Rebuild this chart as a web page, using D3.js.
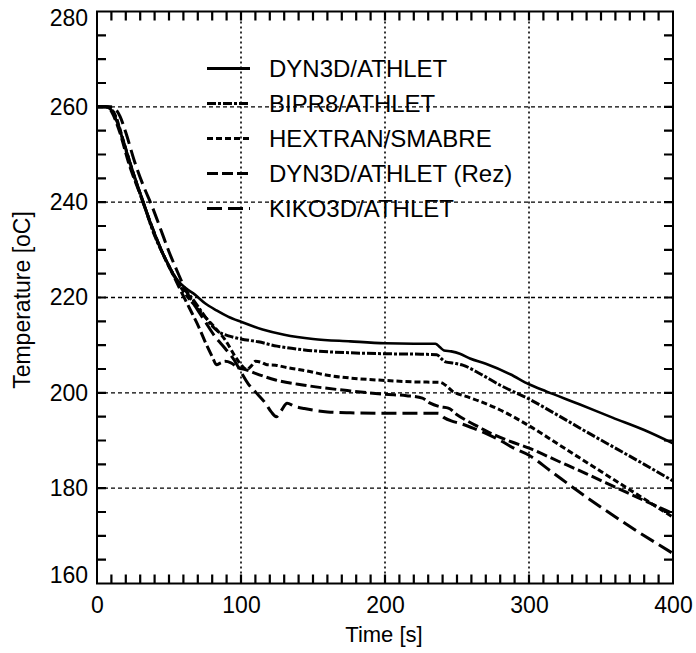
<!DOCTYPE html>
<html>
<head>
<meta charset="utf-8">
<script src="https://cdn.jsdelivr.net/npm/d3@7"></script>
<style>
  body { margin: 0; background: #fff; }
  svg { display: block; }
  text { font-family: Arial, "Liberation Sans", Helvetica, sans-serif; fill: #000; }
</style>
</head>
<body>
<svg id="chart" width="696" height="653"></svg>
<script>
// Axis ticks
const xTickLabels = [0, 100, 200, 300, 400];
const yTickLabels = [160, 180, 200, 220, 240, 260, 280];
const xGrid = [100, 200, 300];
const yGrid = [180, 200, 220, 240, 260];

// Legend entries
const seriesNames = ["DYN3D/ATHLET", "BIPR8/ATHLET", "HEXTRAN/SMABRE", "DYN3D/ATHLET (Rez)", "KIKO3D/ATHLET"];

// Temperature [oC] vs time [s] for each code
const dyn3dAthlet = [
  [0,260],[6,260],[9,259.6],[12,258.2],[16,255],[20,251.2],[26,245.5],[32,240.2],[38,235],[44,230.5],
  [50,226.6],[56,223.6],[62,221.9],[68,220.6],[75,218.8],[83,217.3],[91,216],[100,214.9],[115,213.3],
  [130,212.2],[150,211.3],[176,210.8],[200,210.4],[220,210.3],[235,210.3],[238,209.6],[241,208.9],
  [246,208.7],[252,208.2],[259,207.2],[270,206.1],[287,203.9],[300,201.8],[312,200.3],[335,197.6],
  [358,194.8],[380,192.2],[400,189.4]
];
const bipr8Athlet = [
  [0,260],[7,260],[10,259.5],[13,257.8],[18,253],[24,247],[32,240],[40,233],[48,227.8],[56,223.4],
  [63,221],[69,218.6],[75,216],[80,214],[84,212.9],[92,211.9],[100,211.3],[112,210.7],[125,209.8],
  [144,209],[176,208.4],[200,208.2],[225,208.1],[236,208],[239,207.2],[242,206.5],[248,206.2],
  [254,205.8],[266,204],[280,201.6],[300,198.7],[320,195.3],[340,191.8],[360,188.4],[380,185],[400,181.5]
];
const hextranSmabre = [
  [0,260],[7,260],[10,259.6],[13,258],[18,253.2],[24,247.2],[32,240],[40,233.2],[48,227.7],[56,223.2],
  [62,220.5],[68,218.3],[77,215.3],[83,213.3],[89,211.1],[96,207.6],[100,205.9],[104,204.9],[107,205.6],
  [110,206.6],[114,206.4],[118,205.9],[124,205.8],[132,205.3],[144,204.7],[160,203.7],[176,203.1],
  [200,202.6],[220,202.3],[238,202.2],[242,201.6],[247,200.3],[257,199.2],[266,198.2],[280,196.4],
  [300,193.1],[325,188.3],[350,183.5],[375,178.7],[400,173.9]
];
const dyn3dAthletRez = [
  [0,260],[6,260],[9,259.5],[12,257.8],[16,254.5],[22,248.2],[30,241.6],[38,235],[46,229],[52,225.3],
  [58,221.5],[63,218.5],[66,216.7],[71,213.6],[76,210.1],[80,207.6],[83,205.9],[86,206.3],[89,206.6],
  [93,206.3],[98,205.3],[104,204.8],[110,204.1],[124,202.7],[144,201.6],[176,200.4],[200,199.7],
  [215,199.4],[226,198.9],[231,197.9],[238,197.1],[244,196.8],[250,195.4],[256,194.3],[266,192.7],
  [275,191.3],[287,189.8],[300,188.4],[320,185.7],[340,183],[360,180.2],[380,177.4],[400,174.7]
];
const kiko3dAthlet = [
  [0,260],[10,260],[13,259.5],[16,258],[20,254.6],[26,248.6],[32,243.6],[38,239.3],[44,234.5],[50,229.6],
  [56,225.3],[62,221.3],[68,218.3],[75,215],[82,211.8],[89,209.3],[95,207],[100,204.4],[105,201.9],
  [110,200.2],[117,197.8],[121,196],[124.5,195],[128,196.3],[132,197.8],[137,197.2],[144,196.7],
  [160,196],[176,195.8],[200,195.7],[225,195.7],[237,195.7],[241,194.8],[246,194.1],[252,193.6],
  [262,192.5],[270,191.5],[280,190],[290,188.3],[300,186.9],[315,183.6],[333,179.6],[350,176],
  [375,171],[400,166.3]
];

const seriesData = [dyn3dAthlet, bipr8Athlet, hextranSmabre, dyn3dAthletRez, kiko3dAthlet];
const dashes = ["none", "9,2,3,2", "6,3", "11,4", "15,6"];

const svg = d3.select("#chart");
const plotLeft = 97, plotRight = 673, plotTop = 11.5, plotBottom = 583.5;
const tickLen = 9;

const x = d3.scaleLinear().domain([0, 400]).range([plotLeft, plotRight]);
const y = d3.scaleLinear().domain([160, 280]).range([plotBottom, plotTop]);

svg.append("rect").attr("width", 696).attr("height", 653).attr("fill", "#fff");

svg.append("clipPath").attr("id", "plot-clip")
  .append("rect").attr("x", plotLeft).attr("y", plotTop)
  .attr("width", plotRight - plotLeft).attr("height", plotBottom - plotTop);

// Grid lines
svg.append("g").selectAll("line").data(xGrid).join("line")
  .attr("x1", d => x(d)).attr("x2", d => x(d))
  .attr("y1", plotTop).attr("y2", plotBottom)
  .attr("stroke", "#000").attr("stroke-width", 1.6).attr("stroke-dasharray", "2,3");
svg.append("g").selectAll("line").data(yGrid).join("line")
  .attr("x1", plotLeft).attr("x2", plotRight)
  .attr("y1", d => y(d)).attr("y2", d => y(d))
  .attr("stroke", "#000").attr("stroke-width", 1.4).attr("stroke-dasharray", "4,3");

// Frame
svg.append("rect").attr("x", plotLeft).attr("y", plotTop)
  .attr("width", plotRight - plotLeft).attr("height", plotBottom - plotTop)
  .attr("fill", "none").attr("stroke", "#000").attr("stroke-width", 2);

// Inward minor ticks on all four sides, one path per side
const xMinor = d3.range(10, 400, 10);
const yMinor = d3.range(165, 280, 5);
const tickPath = [
  xMinor.map(v => `M${x(v)},${plotBottom}V${plotBottom - tickLen}`).join(""),
  xMinor.map(v => `M${x(v)},${plotTop}V${plotTop + tickLen}`).join(""),
  yMinor.map(v => `M${plotLeft},${y(v)}H${plotLeft + tickLen}`).join(""),
  yMinor.map(v => `M${plotRight},${y(v)}H${plotRight - tickLen}`).join("")
];
svg.append("g").selectAll("path").data(tickPath).join("path")
  .attr("d", d => d)
  .attr("fill", "none").attr("stroke", "#000").attr("stroke-width", 2.2);

// Tick labels
const xLab = svg.append("g").attr("transform", `translate(0,${plotBottom})`)
  .call(d3.axisBottom(x).tickValues(xTickLabels).tickSize(0).tickPadding(13).tickFormat(d3.format("d")));
xLab.select(".domain").remove();
xLab.selectAll("text").attr("font-size", 23).attr("font-family", "Arial, 'Liberation Sans', sans-serif");

const yLab = svg.append("g").attr("transform", `translate(${plotLeft},0)`)
  .call(d3.axisLeft(y).tickValues(yTickLabels).tickSize(0).tickPadding(9).tickFormat(d3.format("d")));
yLab.select(".domain").remove();
yLab.selectAll("text").attr("font-size", 23).attr("font-family", "Arial, 'Liberation Sans', sans-serif")
  .attr("y", d => d === 280 ? 7 : d === 160 ? -8 : 0);

// Curves
const line = d3.line().x(d => x(d[0])).y(d => y(d[1])).curve(d3.curveMonotoneX);
svg.append("g").attr("clip-path", "url(#plot-clip)")
  .selectAll("path").data(seriesData).join("path")
  .attr("d", line)
  .attr("fill", "none").attr("stroke", "#000")
  .attr("stroke-width", (d, i) => i === 0 ? 2.6 : 3)
  .attr("stroke-dasharray", (d, i) => dashes[i]);

// Legend
const legend = svg.append("g");
const legendY = d3.scaleLinear().domain([0, 4]).range([68.5, 208.5]);
legend.selectAll("line").data(seriesNames).join("line")
  .attr("x1", 207).attr("x2", 250)
  .attr("y1", (d, i) => legendY(i)).attr("y2", (d, i) => legendY(i))
  .attr("stroke", "#000").attr("stroke-width", 3)
  .attr("stroke-dasharray", (d, i) => dashes[i]);
legend.selectAll("text").data(seriesNames).join("text")
  .attr("x", 269).attr("y", (d, i) => legendY(i)).attr("dy", "0.36em")
  .attr("font-size", 24).text(d => d);

// Axis titles
svg.append("text").attr("x", 384).attr("y", 642).attr("text-anchor", "middle")
  .attr("font-size", 22).text("Time [s]");
svg.append("text").attr("transform", "translate(30,300) rotate(-90)")
  .attr("text-anchor", "middle").attr("font-size", 23).text("Temperature [oC]");
</script>
</body>
</html>
